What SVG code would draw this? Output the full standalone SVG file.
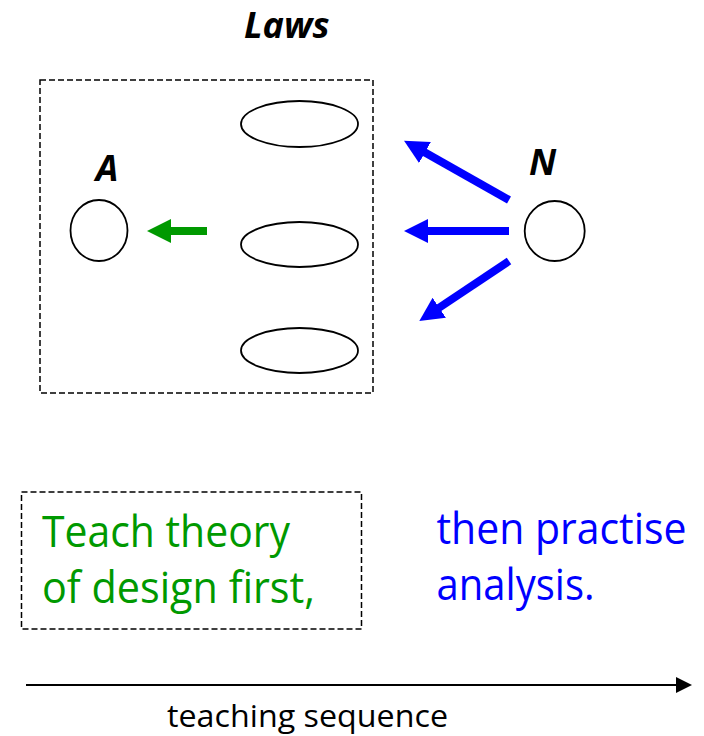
<svg xmlns="http://www.w3.org/2000/svg" width="704" height="736" viewBox="0 0 704 736">
  <style>
    .dash { fill: none; stroke: #000; stroke-width: 1.5; stroke-dasharray: 6 3; }
    .node { fill: #fff; stroke: #000; stroke-width: 1.8; }
    .lbl { font-family: "Open Sans", "Liberation Sans", sans-serif; font-weight: bold; font-style: italic; font-size: 36px; fill: #000; text-anchor: middle; }
    .big { font-family: "Open Sans", "Liberation Sans", sans-serif; font-size: 43px; }
    .green { fill: #009900; }
    .blue { fill: #0000ff; }
    .small { font-family: "Open Sans", "Liberation Sans", sans-serif; font-size: 31px; fill: #000; }
    .ga { stroke: #009900; stroke-width: 8; fill: none; }
    .ba { stroke: #0000ff; stroke-width: 8; fill: none; }
  </style>
  <defs>
    <marker id="headG" viewBox="0 0 24 24" markerWidth="24" markerHeight="24" refX="2" refY="12" orient="auto" markerUnits="userSpaceOnUse">
      <path d="M0,0 L24,12 L0,24 z" fill="#009900"/>
    </marker>
    <marker id="headB" viewBox="0 0 24 24" markerWidth="24" markerHeight="24" refX="2" refY="12" orient="auto" markerUnits="userSpaceOnUse">
      <path d="M0,0 L24,12 L0,24 z" fill="#0000ff"/>
    </marker>
    <marker id="headK" viewBox="0 0 16 16" markerWidth="16" markerHeight="16" refX="2" refY="8" orient="auto" markerUnits="userSpaceOnUse">
      <path d="M0,0 L16,8 L0,16 z" fill="#000"/>
    </marker>
  </defs>

  <g id="laws">
    <text class="lbl" x="286.7" y="38">Laws</text>
    <rect class="dash" x="40" y="80" width="333" height="313"/>
  </g>
  <g id="law1"><ellipse class="node" cx="299.5" cy="124" rx="58.5" ry="23"/></g>
  <g id="law2"><ellipse class="node" cx="299.5" cy="244.5" rx="58.5" ry="22.5"/></g>
  <g id="law3"><ellipse class="node" cx="299.5" cy="350.5" rx="58.5" ry="22.5"/></g>
  <g id="A">
    <text class="lbl" x="107" y="181">A</text>
    <ellipse class="node" cx="99" cy="230.5" rx="28.5" ry="30.5"/>
  </g>
  <g id="N">
    <text class="lbl" x="542.5" y="174.5">N</text>
    <circle class="node" cx="554.7" cy="231" r="30"/>
  </g>

  <g id="connectors">
    <line class="ga" x1="207" y1="231" x2="169" y2="231" marker-end="url(#headG)"/>
    <line class="ba" x1="509" y1="200" x2="423.2" y2="151.5" marker-end="url(#headB)"/>
    <line class="ba" x1="509" y1="231" x2="426" y2="231" marker-end="url(#headB)"/>
    <line class="ba" x1="509" y1="261" x2="437.6" y2="308.8" marker-end="url(#headB)"/>
    <line x1="26" y1="685" x2="678" y2="685" stroke="#000" stroke-width="2" marker-end="url(#headK)"/>
  </g>

  <g id="theory">
    <rect class="dash" x="21.5" y="492" width="340" height="137"/>
    <text class="big green" x="42" y="547" textLength="248" lengthAdjust="spacingAndGlyphs">Teach theory</text>
    <text class="big green" x="42" y="603" textLength="273" lengthAdjust="spacingAndGlyphs">of design first,</text>
  </g>
  <g id="practise">
    <text class="big blue" x="436.5" y="544" textLength="250" lengthAdjust="spacingAndGlyphs">then practise</text>
    <text class="big blue" x="436.5" y="600" textLength="158" lengthAdjust="spacingAndGlyphs">analysis.</text>
  </g>
  <g id="sequence">
    <text class="small" x="167" y="727" textLength="281" lengthAdjust="spacingAndGlyphs">teaching sequence</text>
  </g>
</svg>
